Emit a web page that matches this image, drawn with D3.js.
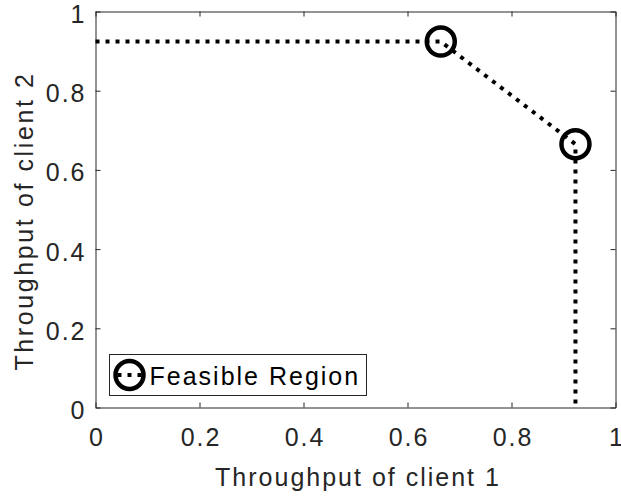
<!DOCTYPE html>
<meta charset="utf-8" />
<style>
  html,
  body {
    margin: 0;
    padding: 0;
    background: #fff;
    font-family: 'Liberation Sans', Arial, sans-serif;
  }
  text {
    letter-spacing: 2px;
  }
</style>
<script src="https://d3js.org/d3.v7.min.js"></script>

<div id="chart"></div>

<script>
  // data
  const regionX = [0, 0.664, 0.923, 0.923];
  const regionY = [0.924, 0.924, 0.665, 0];
  const cornerX = [0.664, 0.923];
  const cornerY = [0.924, 0.665];
  const xTicks = [0, 0.2, 0.4, 0.6, 0.8, 1];
  const yTicks = [0, 0.2, 0.4, 0.6, 0.8, 1];
  const tickLabels = ['0', '0.2', '0.4', '0.6', '0.8', '1'];
  const legendLabel = 'Feasible Region';

  const W = 621;
  const H = 500;
  const margin = { top: 11.5, right: 5.5, bottom: 92.5, left: 95.5 };
  const width = W - margin.left - margin.right;
  const height = H - margin.top - margin.bottom;
  const axisColor = '#262626';
  const fontSize = '25px';

  const svg = d3
    .select('#chart')
    .append('svg')
    .attr('width', W)
    .attr('height', H);

  const g = svg
    .append('g')
    .attr('transform', 'translate(' + margin.left + ',' + margin.top + ')');

  const x = d3.scaleLinear().domain([0, 1]).range([0, width]);
  const y = d3.scaleLinear().domain([0, 1]).range([height, 0]);

  // axes (ticks inside, box on)
  const tickLen = 5;
  const xAxis = g.append('g')
    .attr('transform', 'translate(0,' + height + ')')
    .call(d3.axisBottom(x).tickValues(xTicks).tickSizeInner(-tickLen).tickSizeOuter(0)
      .tickFormat((d, i) => tickLabels[i]));
  xAxis.selectAll('.tick text')
    .attr('y', 21)
    .attr('dy', '0.71em')
    .attr('dx', 1);

  const yAxis = g.append('g')
    .call(d3.axisLeft(y).tickValues(yTicks).tickSizeInner(-tickLen).tickSizeOuter(0)
      .tickFormat((d, i) => tickLabels[i]));
  yAxis.selectAll('.tick text')
    .attr('x', -9)
    .attr('y', 3)
    .attr('dy', '0.32em');

  g.append('g')
    .call(d3.axisTop(x).tickValues(xTicks).tickSizeInner(-tickLen).tickSizeOuter(0)
      .tickFormat(''));
  g.append('g')
    .attr('transform', 'translate(' + width + ',0)')
    .call(d3.axisRight(y).tickValues(yTicks).tickSizeInner(-tickLen).tickSizeOuter(0)
      .tickFormat(''));

  g.selectAll('.domain').attr('stroke', axisColor);
  g.selectAll('.tick line').attr('stroke', axisColor);
  g.selectAll('.tick text')
    .attr('fill', axisColor)
    .style('font-family', "'Liberation Sans', Arial, sans-serif")
    .style('font-size', fontSize);

  // the feasible region frontier
  const line = d3.line().x((d) => x(d[0])).y((d) => y(d[1]));
  const pts = regionX.map((v, i) => [v, regionY[i]]);

  g.append('g')
    .selectAll('circle')
    .data(cornerX.map((v, i) => [v, cornerY[i]]))
    .enter()
    .append('circle')
    .attr('cx', (d) => x(d[0]))
    .attr('cy', (d) => y(d[1]))
    .attr('r', 14)
    .attr('fill', 'none')
    .attr('stroke', '#000')
    .attr('stroke-width', 4.5);

  g.append('path')
    .datum(pts)
    .attr('d', line)
    .attr('fill', 'none')
    .attr('stroke', '#000')
    .attr('stroke-width', 4)
    .attr('stroke-dasharray', '4,6');

  // axis labels
  svg.append('text')
    .attr('x', 358)
    .attr('y', 486)
    .attr('text-anchor', 'middle')
    .attr('fill', axisColor)
    .style('font-size', fontSize)
    .text('Throughput of client 1');

  svg.append('text')
    .attr('transform', 'translate(33,221) rotate(-90)')
    .attr('text-anchor', 'middle')
    .attr('fill', axisColor)
    .style('font-size', fontSize)
    .style('letter-spacing', '2.6px')
    .text('Throughput of client 2');

  // legend
  const leg = svg.append('g').attr('transform', 'translate(109.5,354.5)');
  leg.append('rect')
    .attr('width', 257)
    .attr('height', 41)
    .attr('fill', '#fff')
    .attr('stroke', axisColor)
    .attr('stroke-width', 1);
  leg.append('circle')
    .attr('cx', 20)
    .attr('cy', 20.5)
    .attr('r', 14)
    .attr('fill', 'none')
    .attr('stroke', '#000')
    .attr('stroke-width', 4.5);
  leg.append('line')
    .attr('x1', 8)
    .attr('x2', 32)
    .attr('y1', 20.5)
    .attr('y2', 20.5)
    .attr('stroke', '#000')
    .attr('stroke-width', 4)
    .attr('stroke-dasharray', '4,6');
  leg.append('text')
    .attr('x', 40)
    .attr('y', 30)
    .attr('fill', '#000')
    .style('font-size', fontSize)
    .text(legendLabel);
</script>
